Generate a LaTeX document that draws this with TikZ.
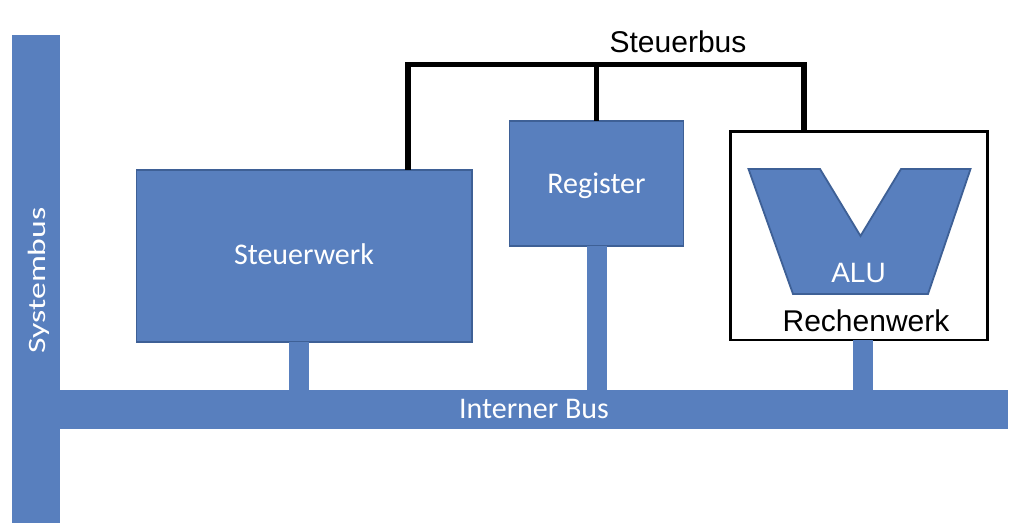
\documentclass[tikz,border=0pt]{standalone}
\usepackage{fontspec}
\setmainfont{Carlito}
\newfontfamily\arialf{Liberation Sans}
\definecolor{busblue}{RGB}{88,127,190}
\definecolor{edgeblue}{RGB}{62,96,150}
\begin{document}
\begin{tikzpicture}[x=1pt,y=-1pt,
  bus/.style={fill=busblue, draw=none, inner sep=0, outer sep=0},
  unit/.style={fill=busblue, draw=edgeblue, line width=1.8pt, inner sep=0, outer sep=0},
  frame/.style={fill=white, draw=black, line width=2.5pt, inner sep=0, outer sep=0},
  wlabel/.style={text=white, font=\fontsize{30}{36}\selectfont, anchor=base, inner sep=0},
  blabel/.style={text=black, font=\arialf\fontsize{30}{36}\selectfont, anchor=base, inner sep=0},
  ctrl/.style={draw=black, line width=5.5pt, line join=miter, line cap=butt},
  stub/.style={draw=busblue, line width=20pt, line cap=butt}]
\useasboundingbox (0,0) rectangle (1036,529);
\fill[white] (0,0) rectangle (1036,529);
% buses
\node[bus, minimum width=48pt, minimum height=488pt] (sys) at (36,279) {};
\node[bus, minimum width=948pt, minimum height=39pt] (ib) at (534,409.5) {};
% units
\node[unit, minimum width=335.5pt, minimum height=172.25pt] (sw) at (304.25,255.9) {};
\node[unit, minimum width=174pt, minimum height=125pt] (reg) at (596.5,183.25) {};
\node[frame, minimum width=257pt, minimum height=208.5pt] (rw) at (859,235.8) {};
% ALU
\draw[fill=busblue, draw=edgeblue, line width=1.8pt, line join=miter]
  (748.5,169) -- (820,169) -- (860.5,236) -- (901,169) -- (970.5,169) -- (928,294) -- (793,294) -- cycle;
% stub positions
\coordinate (s1) at (299,0);
\coordinate (s3) at (863,0);
\draw[stub] (sw.south -| s1) -- (ib.north -| s1);
\draw[stub] (reg.south) -- (ib.north -| reg.south);
\draw[stub] (rw.south -| s3) -- (ib.north -| s3);
% Steuerbus
\coordinate (sbL) at (408,64.7);
\coordinate (sbR) at (804,64.7);
\draw[ctrl] (sw.north -| sbL) -- (sbL) -- (sbR) -- (rw.north -| sbR);
\draw[ctrl] (reg.north) -- (reg.north |- sbL);
% labels
\node[wlabel] (swt) at (304,265) {Steuerwerk};
\node[wlabel] (regt) at (596.5,194) {Register};
\node[wlabel] (ibt) at (534,418) {Interner Bus};
\node[wlabel, rotate=90, font=\fontsize{25}{30}\selectfont] (syst) at (45,280.5) {\scalebox{1.35}[1]{Systembus}};
\node[blabel, text=white, font=\arialf\fontsize{28}{34}\selectfont] (alut) at (858.5,283) {ALU};
\node[blabel] (rwt) at (866,331) {Rechenwerk};
\node[blabel] (sbt) at (678,53) {Steuerbus};
\end{tikzpicture}
\end{document}
